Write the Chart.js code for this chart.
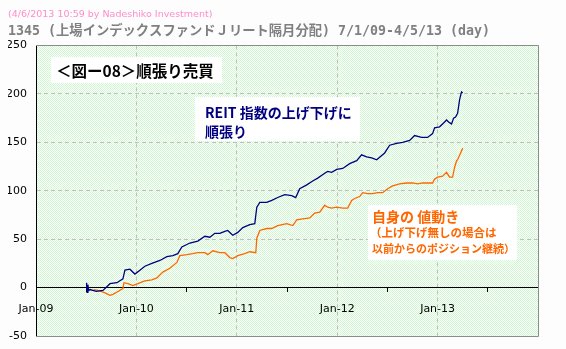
<!DOCTYPE html>
<html><head><meta charset="utf-8">
<script src="https://cdn.jsdelivr.net/npm/chart.js@4/dist/chart.umd.min.js"></script>
<style>html,body{margin:0;padding:0;background:#fff;}canvas{display:block;}</style>
</head><body>
<canvas id="c" width="566" height="349"></canvas>
<script>
// Months since Jan-2009 and values
const reitMonths = [6.0,6.05,6.1,6.2,6.3,6.45,7.2,8.0,8.84,9.67,10.39,10.63,11.22,11.82,12.42,13.01,13.85,14.81,15.64,16.36,16.95,17.43,18.39,19.34,20.18,20.78,21.37,21.97,22.57,22.92,23.52,24.12,24.72,25.55,26.15,26.39,26.75,27.58,28.18,28.89,29.73,30.57,31.04,31.52,32.36,33.07,33.67,34.51,34.86,35.34,35.94,36.66,37.49,38.33,38.92,39.52,40.12,40.72,41.67,42.27,43.10,43.82,44.66,45.25,46.09,46.80,47.40,47.64,48.24,48.72,49.07,49.31,49.67,49.91,50.15,50.39,50.63,50.86,51.0];
const reitValues = [0,5,-5,3,-3,-2,-4,-3,4,5,9,18,19,14,18,22,25,28,32,33,35,42,46,48,53,52,56,56,58,59,54,57,62,65,66,83,88,88,90,93,96,95,93,102,106,110,113,118,120,119,122,123,128,131,137,135,134,132,139,147,149,150,152,157,155,155,159,165,166,170,173,171,169,175,176,180,194,202,201];
const ownMonths = [6.9,7.4,8.12,8.84,9.19,9.79,10.39,10.51,10.99,11.58,12.18,13.01,13.85,14.45,15.16,16.0,16.84,17.19,18.03,18.75,19.34,20.18,20.54,21.13,21.97,22.57,23.16,23.52,24.12,24.95,25.55,26.27,26.39,26.75,27.58,28.18,28.89,29.97,30.69,31.16,31.88,32.72,33.31,33.91,34.51,34.86,35.34,35.94,36.66,37.25,37.73,38.09,38.69,39.04,39.64,40.24,40.83,41.43,42.03,42.63,43.46,44.30,45.01,45.61,46.21,47.04,47.40,47.64,48.0,48.60,49.07,49.43,49.79,50.03,50.27,50.39,50.75,51.0];
const ownValues = [-2,-3,-5,-8,-7,-4,-1,5,4,2,4,7,8,10,16,20,26,33,34,35,36,36,34,38,36,36,31,30,33,35,37,36,51,59,61,61,64,66,64,70,71,72,77,78,85,83,82,83,82,82,90,92,94,98,97,97,98,98,102,105,107,108,108,107,108,108,108,112,114,115,119,114,114,124,131,132,139,144];
const xTickLabels = ['Jan-09','Jan-10','Jan-11','Jan-12','Jan-13'];
const yTicks = [-50,0,50,100,150,200,250];
const titleText = '(4/6/2013 10:59 by Nadeshiko Investment)';
const subtitleText = '1345 (上場インデックスファンドＪリート隔月分配) 7/1/09-4/5/13 (day)';
const note1 = ['＜図ー08＞順張り売買'];
const note2 = ['REIT 指数の上げ下げに','順張り'];
const note3 = ['自身の 値動き','（上げ下げ無しの場合は','以前からのポジション継続）'];

const toXY = (xs, ys) => xs.map((x, i) => ({x: x, y: ys[i]}));

const pat = document.createElement('canvas');
pat.width = 2; pat.height = 2;
const pc = pat.getContext('2d');
pc.fillStyle = '#ffffff'; pc.fillRect(0,0,2,2);
pc.fillStyle = '#d0f8d0'; pc.fillRect(0,0,1,1); pc.fillRect(1,1,1,1);

const bgPlugin = {
  id: 'bg',
  beforeDraw(chart) {
    const {ctx, chartArea: a} = chart;
    ctx.save();
    ctx.fillStyle = '#fdfdfd';
    ctx.fillRect(0, 0, chart.width, chart.height);
    ctx.fillStyle = ctx.createPattern(pat, 'repeat');
    ctx.fillRect(a.left, a.top, a.right - a.left, a.bottom - a.top);
    ctx.restore();
  },
  beforeDatasetsDraw(chart) {
    const {ctx, chartArea: a} = chart;
    ctx.save();
    ctx.strokeStyle = '#8c8c8c';
    ctx.lineWidth = 1;
    ctx.beginPath();
    ctx.moveTo(a.left, Math.round(a.top) + 0.5);
    ctx.lineTo(Math.round(a.right) + 0.5, Math.round(a.top) + 0.5);
    ctx.lineTo(Math.round(a.right) + 0.5, Math.round(a.bottom) + 0.5);
    ctx.lineTo(a.left, Math.round(a.bottom) + 0.5);
    ctx.stroke();
    ctx.restore();
  },
  afterDatasetsDraw(chart) {
    const {ctx} = chart;
    const fam = '"Noto Sans CJK JP", sans-serif';
    ctx.save();
    ctx.fillStyle = '#ffffff';
    ctx.fillRect(51, 57, 171, 26);
    ctx.fillRect(195, 97, 165, 44);
    ctx.fillRect(368, 205, 149, 55);
    ctx.textBaseline = 'middle';
    ctx.textAlign = 'left';
    ctx.fillStyle = '#000000';
    ctx.font = 'bold 15.5px ' + fam;
    ctx.fillText(note1[0], 56, 71);
    ctx.fillStyle = '#000080';
    ctx.font = 'bold 14px ' + fam;
    ctx.fillText(note2[0], 205, 113);
    ctx.fillText(note2[1], 205, 132);
    ctx.fillStyle = '#ff6600';
    ctx.font = 'bold 14px ' + fam;
    ctx.fillText(note3[0], 372, 217);
    ctx.font = 'bold 11.5px ' + fam;
    ctx.fillText(note3[1], 370, 233);
    ctx.font = 'bold 11px ' + fam;
    ctx.fillText(note3[2], 372, 249);
    ctx.restore();
  }
};

new Chart(document.getElementById('c'), {
  type: 'line',
  data: {
    datasets: [
      {label: 'REIT', data: toXY(reitMonths, reitValues), borderColor: '#000080', borderWidth: 1.3, pointRadius: 0, tension: 0, fill: false},
      {label: 'own', data: toXY(ownMonths, ownValues), borderColor: '#ff6600', borderWidth: 1.3, pointRadius: 0, tension: 0, fill: false}
    ]
  },
  options: {
    responsive: false,
    animation: false,
    layout: {padding: {left: 8, right: 28, top: 0, bottom: 13}},
    plugins: {
      legend: {display: false},
      tooltip: {enabled: false},
      title: {display: true, text: titleText, align: 'start', color: '#ff8ccc',
        font: {family: 'DejaVu Sans', size: 9.5, weight: 'normal', lineHeight: 1.2}, padding: {top: 9, bottom: 3.5}},
      subtitle: {display: true, text: subtitleText, align: 'start', color: '#808080',
        font: {family: '"DejaVu Sans Mono", "Noto Sans CJK JP"', size: 13.3, weight: 'bold', lineHeight: 1.2}, padding: {top: 0, bottom: 5.6}}
    },
    scales: {
      x: {
        type: 'linear', min: 0, max: 60, position: {y: 0},
        afterBuildTicks: s => { s.ticks = [0,6,12,18,24,30,36,42,48,54,60].map(v => ({value: v})); },
        afterFit: s => { s.paddingTop = 0; s.paddingBottom = 0; },
        ticks: {autoSkip: false, maxRotation: 0, color: '#000', padding: 11,
          font: {family: 'DejaVu Sans', size: 11},
          callback: v => (v % 12 === 0 && v / 12 < xTickLabels.length) ? xTickLabels[v / 12] : ''},
        grid: {
          color: c => (c.tick && c.tick.value % 12 === 0 && c.tick.value > 0 && c.tick.value < 60) ? '#c0c0c0' : 'rgba(0,0,0,0)',
          tickColor: c => (c.tick && c.tick.value % 12 === 6) ? '#000' : 'rgba(0,0,0,0)',
          tickLength: 4, lineWidth: 1
        },
        border: {display: true, color: '#000', width: 1, dash: [4, 3]}
      },
      y: {
        min: -50, max: 250,
        afterBuildTicks: s => { s.ticks = yTicks.map(v => ({value: v})); },
        afterFit: s => { s.width = 28; s.paddingTop = 0; s.paddingBottom = 0; },
        ticks: {color: '#000', padding: 9, font: {family: 'DejaVu Sans', size: 11}},
        grid: {drawTicks: false, lineWidth: 1,
          color: c => (c.tick && c.tick.value > 0 && c.tick.value < 250) ? '#c0c0c0' : 'rgba(0,0,0,0)'},
        border: {display: true, color: '#000', width: 1, dash: [4, 3]}
      }
    }
  },
  plugins: [bgPlugin]
});
</script>
</body></html>
